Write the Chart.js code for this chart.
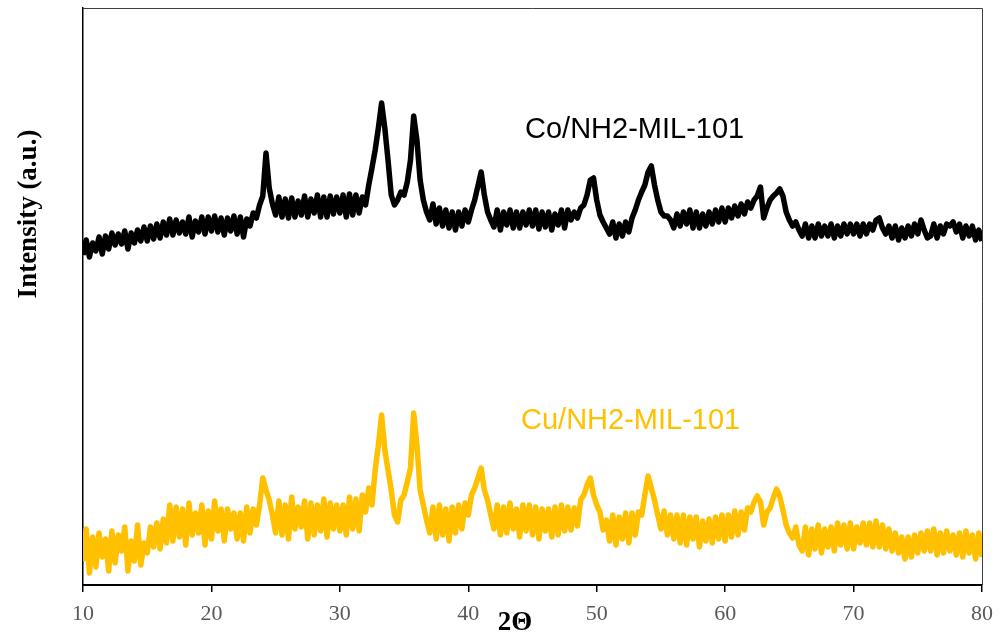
<!DOCTYPE html>
<html>
<head>
<meta charset="utf-8">
<script src="https://cdn.jsdelivr.net/npm/chart.js"></script>
<style>
html, body { margin: 0; padding: 0; background: #fff; }
</style>
</head>
<body>
<canvas id="xrd" width="1002" height="641"></canvas>
<script>
// 2-theta positions (deg), one row per two degrees
const twoTheta = [
  10,10.25,10.5,10.75, 11,11.25,11.5,11.75,
  12,12.25,12.5,12.75, 13,13.25,13.5,13.75,
  14,14.25,14.5,14.75, 15,15.25,15.5,15.75,
  16,16.25,16.5,16.75, 17,17.25,17.5,17.75,
  18,18.25,18.5,18.75, 19,19.25,19.5,19.75,
  20,20.25,20.5,20.75, 21,21.25,21.5,21.75,
  22,22.25,22.5,22.75, 23,23.25,23.5,23.75,
  24,24.25,24.5,24.75, 25,25.25,25.5,25.75,
  26,26.25,26.5,26.75, 27,27.25,27.5,27.75,
  28,28.25,28.5,28.75, 29,29.25,29.5,29.75,
  30,30.25,30.5,30.75, 31,31.25,31.5,31.75,
  32,32.25,32.5,32.75, 33,33.25,33.5,33.75,
  34,34.25,34.5,34.75, 35,35.25,35.5,35.75,
  36,36.25,36.5,36.75, 37,37.25,37.5,37.75,
  38,38.25,38.5,38.75, 39,39.25,39.5,39.75,
  40,40.25,40.5,40.75, 41,41.25,41.5,41.75,
  42,42.25,42.5,42.75, 43,43.25,43.5,43.75,
  44,44.25,44.5,44.75, 45,45.25,45.5,45.75,
  46,46.25,46.5,46.75, 47,47.25,47.5,47.75,
  48,48.25,48.5,48.75, 49,49.25,49.5,49.75,
  50,50.25,50.5,50.75, 51,51.25,51.5,51.75,
  52,52.25,52.5,52.75, 53,53.25,53.5,53.75,
  54,54.25,54.5,54.75, 55,55.25,55.5,55.75,
  56,56.25,56.5,56.75, 57,57.25,57.5,57.75,
  58,58.25,58.5,58.75, 59,59.25,59.5,59.75,
  60,60.25,60.5,60.75, 61,61.25,61.5,61.75,
  62,62.25,62.5,62.75, 63,63.25,63.5,63.75,
  64,64.25,64.5,64.75, 65,65.25,65.5,65.75,
  66,66.25,66.5,66.75, 67,67.25,67.5,67.75,
  68,68.25,68.5,68.75, 69,69.25,69.5,69.75,
  70,70.25,70.5,70.75, 71,71.25,71.5,71.75,
  72,72.25,72.5,72.75, 73,73.25,73.5,73.75,
  74,74.25,74.5,74.75, 75,75.25,75.5,75.75,
  76,76.25,76.5,76.75, 77,77.25,77.5,77.75,
  78,78.25,78.5,78.75, 79,79.25,79.5,79.75,
  80
];

// Co/NH2-MIL-101 intensity (a.u., stacked on top)
const coIntensity = [
  330,345,328,342, 334,348,331,349,
  336,352,340,351, 341,354,336,352,
  342,355,344,358, 344,359,346,361,
  347,363,350,366, 350,365,352,363,
  351,368,348,364, 353,368,351,368,
  354,369,353,367, 350,367,354,369,
  351,368,348,366, 359,372,367,380,
  389,432,397,381, 370,388,368,386,
  367,387,368,384, 370,389,368,386,
  372,390,368,388, 368,389,371,388,
  372,390,368,391, 370,390,372,388,
  380,400,417,435, 457,482,457,425,
  390,380,385,393, 390,403,425,469,
  445,405,385,373, 365,381,361,377,
  359,375,357,373, 355,373,359,375,
  363,375,385,399, 413,390,373,365,
  358,375,355,373, 360,375,357,373,
  357,373,360,375, 359,375,356,373,
  358,373,355,371, 360,375,357,375,
  365,373,367,377, 380,390,405,407,
  385,370,363,357, 351,363,347,361,
  349,363,353,367, 375,385,393,400,
  413,419,400,385, 373,369,369,365,
  357,371,359,373, 361,375,357,373,
  357,371,359,373, 361,375,363,377,
  363,377,367,379, 369,381,371,383,
  377,385,389,398, 367,377,385,389,
  392,396,389,373, 365,359,363,355,
  349,361,347,359, 347,361,349,359,
  349,361,347,359, 349,361,351,361,
  351,361,349,361, 351,361,355,365,
  367,357,351,359, 347,359,345,357,
  347,359,349,361, 351,365,355,347,
  349,361,347,359, 351,361,359,363,
  353,361,347,359, 349,359,345,355,
  344
];

// Cu/NH2-MIL-101 intensity (a.u.)
const cuIntensity = [
  24,56,12,48, 18,52,28,46,
  14,54,22,50, 34,58,14,44,
  24,60,20,42, 32,58,38,62,
  36,66,42,80, 44,78,48,76,
  40,82,50,72, 52,80,40,74,
  46,84,54,76, 44,76,56,72,
  46,72,44,78, 52,76,60,80,
  107,95,85,70, 52,84,50,80,
  46,88,56,78, 58,84,46,82,
  50,80,54,86, 48,82,56,80,
  54,80,50,88, 56,86,54,90,
  73,97,80,115, 140,170,135,115,
  95,70,63,85, 90,103,117,172,
  140,95,80,65, 52,78,46,80,
  50,76,44,78, 52,80,56,82,
  70,90,97,107, 117,95,85,70,
  56,80,50,78, 52,82,56,76,
  48,80,54,80, 50,78,46,76,
  54,76,48,78, 50,80,54,78,
  55,77,59,85, 90,100,107,90,
  80,73,55,65, 44,70,40,68,
  46,72,42,72, 50,73,70,90,
  109,97,85,70, 56,74,50,70,
  46,70,42,70, 40,68,46,68,
  38,64,44,66, 42,68,46,70,
  44,70,48,74, 50,73,55,77,
  73,83,89,83, 60,73,77,87,
  96,89,75,60, 52,47,58,40,
  34,58,30,56, 36,60,32,56,
  38,58,34,62, 40,60,36,62,
  36,58,42,62, 40,62,38,64,
  38,60,36,56, 34,52,32,48,
  26,48,28,50, 32,52,34,54,
  34,56,30,52, 32,54,34,50,
  30,52,28,54, 32,50,26,52,
  28
];

const seriesNames = ['Co/NH2-MIL-101', 'Cu/NH2-MIL-101'];
const seriesColors = ['#000000', '#FFC000'];
const xTicks = [10, 20, 30, 40, 50, 60, 70, 80];

function toPoints(ys) {
  return twoTheta.map((t, i) => ({ x: t, y: ys[i] }));
}

// frame, axis titles and the in-plot series labels
const textPlugin = {
  id: 'xrdText',
  afterDraw(chart) {
    const ctx = chart.ctx;
    const a = chart.chartArea;
    ctx.save();
    ctx.strokeStyle = '#404040';
    ctx.lineWidth = 1;
    ctx.beginPath();
    ctx.moveTo(a.left, a.top + 0.5);
    ctx.lineTo(a.right + 0.5, a.top + 0.5);
    ctx.lineTo(a.right + 0.5, a.bottom);
    ctx.stroke();

    ctx.fillStyle = '#000';
    ctx.font = 'bold 27px "Liberation Serif"';
    ctx.textAlign = 'center';
    ctx.textBaseline = 'middle';
    ctx.save();
    ctx.translate(29, 214);
    ctx.rotate(-Math.PI / 2);
    ctx.fillText('Intensity (a.u.)', 0, 0);
    ctx.restore();

    ctx.font = 'bold 27px "Liberation Serif"';
    ctx.fillText('2\u0398', 515, 623);

    ctx.textAlign = 'left';
    ctx.font = '29px "Liberation Sans"';
    ctx.fillStyle = seriesColors[0];
    ctx.fillText(seriesNames[0], 525, 130);
    ctx.fillStyle = seriesColors[1];
    ctx.fillText(seriesNames[1], 521, 421);
    ctx.restore();
  }
};

new Chart(document.getElementById('xrd'), {
  type: 'line',
  data: {
    datasets: [
      {
        label: seriesNames[0],
        data: toPoints(coIntensity),
        borderColor: seriesColors[0],
        borderWidth: 5.5,
        borderJoinStyle: 'round',
        pointRadius: 0,
        tension: 0
      },
      {
        label: seriesNames[1],
        data: toPoints(cuIntensity),
        borderColor: seriesColors[1],
        borderWidth: 5.5,
        borderJoinStyle: 'round',
        pointRadius: 0,
        tension: 0
      }
    ]
  },
  options: {
    responsive: false,
    animation: false,
    devicePixelRatio: 1,
    layout: { padding: { top: 8, right: 15, left: 0, bottom: 0 } },
    plugins: {
      legend: { display: false },
      tooltip: { enabled: false }
    },
    scales: {
      x: {
        type: 'linear',
        min: 10,
        max: 80,
        afterBuildTicks: s => { s.ticks = xTicks.map(v => ({ value: v })); },
        afterFit: s => { s.height = 56; },
        ticks: {
          color: '#595959',
          font: { family: 'Liberation Serif', size: 22 },
          padding: 9,
          maxRotation: 0
        },
        grid: {
          display: true,
          drawOnChartArea: false,
          drawTicks: true,
          tickLength: 7,
          color: '#000',
          lineWidth: 1.5
        },
        border: { display: true, color: '#000', width: 2 }
      },
      y: {
        min: 0,
        max: 577,
        afterFit: s => { s.width = 83; },
        ticks: { display: false },
        grid: { display: false },
        border: { display: true, color: '#000', width: 1.5 }
      }
    }
  },
  plugins: [textPlugin]
});
</script>
</body>
</html>
